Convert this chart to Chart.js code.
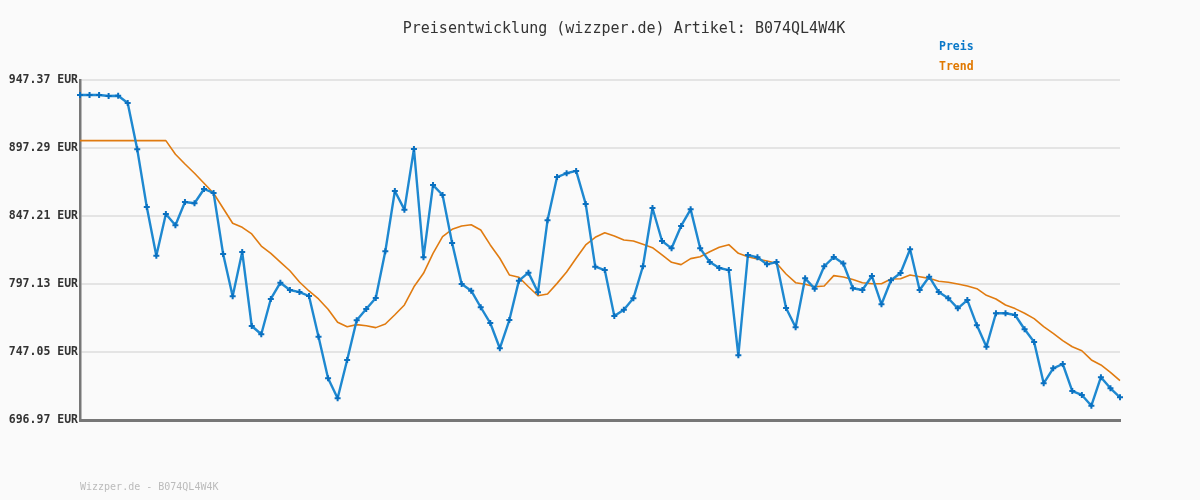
<!DOCTYPE html>
<html>
<head>
<meta charset="utf-8">
<script src="https://cdn.jsdelivr.net/npm/chart.js@4/dist/chart.umd.min.js"></script>
<style>
  html, body { margin: 0; padding: 0; background: #fafafa; }
  #wrap { position: relative; width: 1200px; height: 500px; background: #fafafa; }
  canvas { position: absolute; left: 0; top: 0; }
  .txt { position: absolute; font-family: "DejaVu Sans Mono", monospace; white-space: nowrap; }
  #title { left: 0; width: 1248px; top: 19px; text-align: center; font-size: 15px; color: #333; }
  #lg1 { left: 939px; top: 39px; font-size: 11.5px; font-weight: bold; color: #0a78c8; }
  #lg2 { left: 939px; top: 59px; font-size: 11.5px; font-weight: bold; color: #e07800; }
  #foot { left: 80px; top: 481px; font-size: 10px; color: #bbb; }
</style>
</head>
<body>
<div id="wrap">
  <canvas id="c" width="1200" height="500"></canvas>
  <div class="txt" id="title">Preisentwicklung (wizzper.de) Artikel: B074QL4W4K</div>
  <div class="txt" id="lg1">Preis</div>
  <div class="txt" id="lg2">Trend</div>
  <div class="txt" id="foot">Wizzper.de - B074QL4W4K</div>
</div>
<script>
const preis = [
  936.3, 936.3, 936.3, 935.6, 935.8, 930.4, 896.3, 853.8, 818.0, 848.7,
  840.4, 857.5, 856.6, 867.1, 864.2, 819.2, 788.1, 820.7, 766.2, 760.1,
  786.1, 798.1, 792.7, 791.2, 788.3, 758.3, 727.7, 713.0, 741.2, 770.4,
  778.7, 786.8, 821.2, 865.6, 851.9, 896.6, 816.8, 870.0, 862.7, 827.3,
  797.1, 792.2, 780.0, 768.4, 749.8, 770.6, 799.6, 805.5, 791.0, 844.0,
  875.9, 878.7, 880.4, 856.1, 809.9, 807.4, 773.6, 778.2, 786.6, 810.2,
  853.1, 828.8, 823.4, 839.9, 852.1, 823.4, 813.3, 808.9, 807.4, 744.6,
  818.5, 816.8, 811.6, 813.3, 779.5, 765.3, 801.3, 793.7, 810.2, 817.0,
  812.2, 794.0, 792.7, 803.0, 782.2, 799.9, 805.2, 822.7, 792.7, 802.5,
  791.2, 786.6, 779.2, 785.3, 766.7, 750.9, 775.6, 775.6, 774.3, 763.8,
  754.4, 724.0, 735.0, 738.2, 718.3, 715.4, 707.5, 728.5, 720.3, 713.7
];
const trend = [
  902.7, 902.7, 902.7, 902.7, 902.7, 902.7, 902.7, 902.7, 902.7, 902.7,
  892.7, 885.5, 878.7, 871.3, 864.0, 852.9, 841.9, 838.9, 834.0, 825.1,
  819.7, 813.3, 806.9, 798.6, 792.0, 786.1, 778.5, 768.9, 765.7, 767.2,
  766.4, 765.0, 767.7, 774.5, 781.7, 795.1, 805.0, 819.7, 832.0, 837.4,
  839.9, 840.8, 836.9, 825.9, 816.1, 803.8, 802.1, 795.1, 788.5, 789.8,
  797.6, 806.0, 816.1, 825.9, 831.5, 834.9, 832.5, 829.5, 828.8, 826.4,
  823.9, 818.5, 813.1, 811.4, 815.8, 817.2, 820.9, 824.2, 826.1, 819.7,
  817.2, 815.5, 814.1, 812.4, 804.5, 798.1, 796.9, 795.1, 795.7, 803.3,
  802.3, 800.4, 798.1, 797.3, 797.3, 800.8, 801.0, 803.8, 802.5, 801.3,
  799.1, 798.4, 797.1, 795.7, 793.7, 788.8, 786.1, 781.7, 779.0, 775.6,
  771.6, 765.7, 760.8, 755.4, 750.9, 748.0, 741.2, 737.5, 732.1, 725.9
];
const yTicks = [696.97, 747.05, 797.13, 847.21, 897.29, 947.37];
const labels = preis.map((_, i) => String(i + 1));

new Chart(document.getElementById('c'), {
  type: 'line',
  data: {
    labels: labels,
    datasets: [
      {
        label: 'Trend',
        data: trend,
        borderColor: '#e07b10',
        borderWidth: 1.6,
        borderJoinStyle: 'round',
        pointRadius: 0,
        tension: 0,
        order: 2
      },
      {
        label: 'Preis',
        data: preis,
        borderColor: '#1e88d0',
        borderWidth: 2.4,
        borderJoinStyle: 'round',
        pointStyle: 'cross',
        pointRadius: 3,
        pointBorderWidth: 2,
        pointBorderColor: '#0a70c0',
        pointBackgroundColor: '#0a70c0',
        tension: 0,
        order: 1
      }
    ]
  },
  options: {
    responsive: false,
    animation: false,
    events: [],
    layout: { padding: { left: 0, right: 80, top: 80, bottom: 80 } },
    plugins: { legend: { display: false }, title: { display: false }, tooltip: { enabled: false } },
    scales: {
      x: {
        offset: false,
        grid: { display: false, drawTicks: false },
        ticks: { display: false },
        border: { display: true, color: '#777', width: 3 },
        afterFit: s => { s.height = 0; }
      },
      y: {
        min: 696.97,
        max: 947.37,
        afterBuildTicks: s => { s.ticks = yTicks.map(v => ({ value: v })); },
        ticks: {
          padding: 2,
          color: '#333',
          font: { family: 'DejaVu Sans Mono', size: 11.5, weight: 'bold' },
          callback: v => Number(v).toFixed(2) + ' EUR'
        },
        grid: { color: '#e4e4e4', lineWidth: 2, drawTicks: false },
        border: { display: true, color: '#777', width: 2.5 },
        afterFit: s => { s.width = 80; }
      }
    }
  }
});
</script>
</body>
</html>
